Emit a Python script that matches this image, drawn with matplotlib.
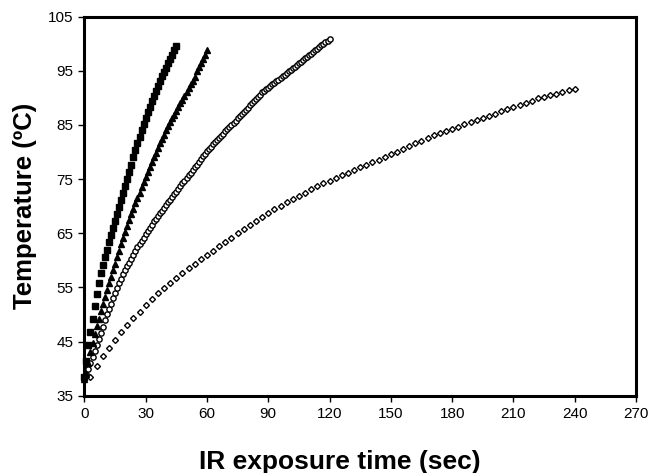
import matplotlib
matplotlib.use("Agg")
import matplotlib.pyplot as plt

plt.rcParams['font.family'] = ['Liberation Sans', 'DejaVu Sans']

# filled squares, one reading per second, 0-45 s
sq_t = list(range(0, 46))
sq_T = [38.5, 41.5, 44.3, 46.8, 49.2, 51.5, 53.7, 55.8, 57.6, 59.2,
        60.6, 62.0, 63.4, 64.7, 66.0, 67.3, 68.6, 69.9, 71.2, 72.5,
        73.8, 75.1, 76.4, 77.7, 79.0, 80.3, 81.6, 82.8, 84.0, 85.2,
        86.3, 87.4, 88.4, 89.4, 90.4, 91.3, 92.2, 93.1, 94.0, 94.8,
        95.6, 96.4, 97.2, 98.0, 98.8, 99.5]

# filled triangles, 0-60 s
tri_t = list(range(0, 61))
tri_T = [38.0, 39.0, 41.0, 43.0, 44.8, 46.4, 47.8, 49.2, 50.6, 51.9,
         53.2, 54.5, 55.8, 57.0, 58.2, 59.4, 60.6, 61.8, 63.0, 64.1,
         65.2, 66.3, 67.4, 68.5, 69.5, 70.5, 71.5, 72.5, 73.5, 74.5,
         75.4, 76.3, 77.2, 78.1, 79.0, 79.9, 80.8, 81.6, 82.4, 83.2,
         84.0, 84.8, 85.5, 86.2, 86.9, 87.6, 88.3, 89.0, 89.7, 90.4,
         91.1, 91.8, 92.5, 93.2, 93.9, 95.0, 95.8, 96.5, 97.2, 98.0,
         98.8]

# open circles, 0-120 s
circ_t = list(range(0, 121))
circ_T = [38.0, 39.0, 40.0, 41.1, 42.2, 43.3, 44.4, 45.5, 46.6, 47.7,
          48.9, 50.0, 51.0, 52.0, 53.0, 54.0, 54.9, 55.8, 56.6, 57.4,
          58.2, 58.9, 59.6, 60.3, 61.0, 61.7, 62.4, 63.0, 63.6, 64.2,
          64.8, 65.4, 66.0, 66.6, 67.2, 67.7, 68.2, 68.7, 69.2, 69.7,
          70.2, 70.7, 71.2, 71.7, 72.2, 72.7, 73.2, 73.7, 74.2, 74.7,
          75.2, 75.7, 76.2, 76.7, 77.2, 77.7, 78.2, 78.7, 79.2, 79.7,
          80.2, 80.6, 81.0, 81.4, 81.8, 82.2, 82.6, 83.0, 83.4, 83.8,
          84.2, 84.6, 85.0, 85.4, 85.8, 86.2, 86.6, 87.0, 87.4, 87.8,
          88.2, 88.6, 89.0, 89.4, 89.8, 90.2, 90.6, 91.0, 91.3, 91.6,
          91.9, 92.2, 92.5, 92.8, 93.1, 93.4, 93.7, 94.0, 94.3, 94.6,
          94.9, 95.2, 95.5, 95.8, 96.1, 96.4, 96.7, 97.0, 97.3, 97.6,
          97.9, 98.2, 98.5, 98.8, 99.1, 99.4, 99.7, 100.0, 100.3, 100.6,
          100.9]

# open diamonds, every 3 s, 3-240 s
dia_t = list(range(3, 241, 3))
dia_T = [38.5, 40.5, 42.3, 43.9, 45.3, 46.7, 48.0, 49.3, 50.5, 51.7,
         52.8, 53.9, 54.9, 55.9, 56.8, 57.7, 58.6, 59.4, 60.2, 61.0,
         61.8, 62.6, 63.4, 64.2, 65.0, 65.8, 66.6, 67.3, 68.0, 68.7,
         69.4, 70.0, 70.7, 71.3, 71.9, 72.5, 73.1, 73.7, 74.2, 74.7,
         75.2, 75.7, 76.2, 76.7, 77.2, 77.7, 78.1, 78.5, 79.1, 79.6,
         80.1, 80.6, 81.1, 81.6, 82.1, 82.6, 83.1, 83.5, 83.9, 84.3,
         84.7, 85.1, 85.5, 85.9, 86.3, 86.7, 87.1, 87.5, 87.9, 88.3,
         88.7, 89.0, 89.4, 89.9, 90.2, 90.5, 90.8, 91.1, 91.4, 91.7]

x_ticks = list(range(0, 271, 30))
y_ticks = list(range(35, 106, 10))

fig = plt.figure(figsize=(6.54, 4.73), dpi=100)
ax = fig.add_axes([0.129, 0.1634, 0.8435, 0.8013])

ax.plot(dia_t, dia_T, linestyle='none', marker='D', ms=3.0, mfc='white',
        mec='black', mew=1.0, clip_on=False)
ax.plot(circ_t, circ_T, linestyle='none', marker='o', ms=3.8, mfc='white',
        mec='black', mew=1.0, clip_on=False)
ax.plot(tri_t, tri_T, linestyle='none', marker='^', ms=5.0, color='black',
        clip_on=False)
ax.plot(sq_t, sq_T, linestyle='none', marker='s', ms=4.2, color='black',
        clip_on=False)

ax.set_xlim(0, 270)
ax.set_ylim(35, 105)
ax.set_xticks(x_ticks)
ax.set_yticks(y_ticks)
ax.tick_params(direction='out', length=4, width=1, labelsize=11, pad=4)

for s in ax.spines.values():
    s.set_linewidth(2.2)

ax.set_xlabel("IR exposure time (sec)", fontsize=19, fontweight='bold')
ax.set_ylabel("Temperature (ºC)", fontsize=18.5, fontweight='bold')
ax.xaxis.set_label_coords(0.463, -0.142)
ax.yaxis.set_label_coords(-0.086, 0.5)

fig.savefig("out.png", dpi=100)
